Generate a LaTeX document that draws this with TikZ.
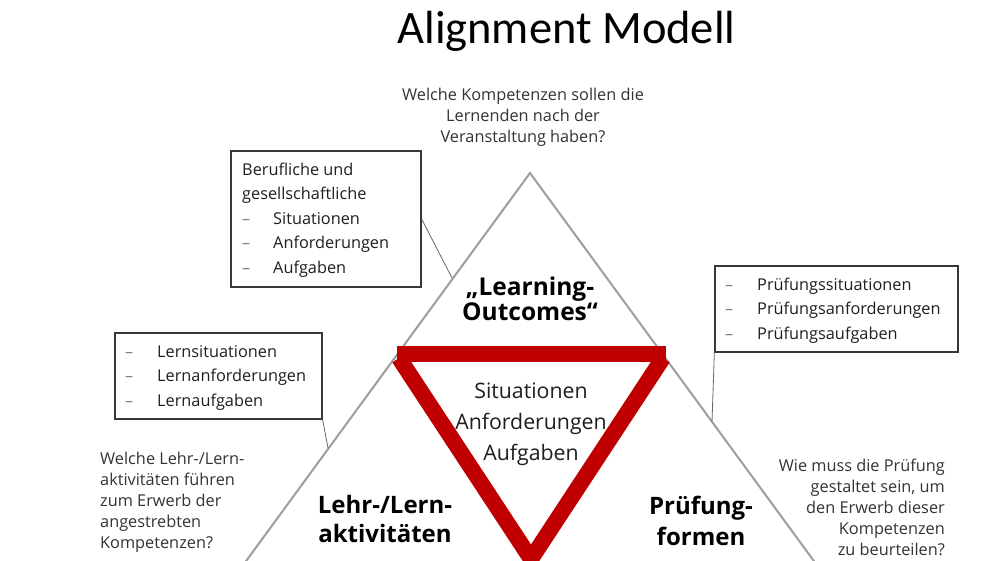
\documentclass[tikz,border=0pt]{standalone}
\usepackage{fontspec}
\setmainfont{Open Sans}
\newfontfamily\titlefont{Carlito}
\definecolor{redtri}{HTML}{C00000}
\definecolor{txtgray}{HTML}{333333}
\newcommand{\dashitem}[1]{\makebox[31pt][l]{\textcolor{black!50}{–}}#1}
\begin{document}
\begin{tikzpicture}[x=1pt,y=-1pt,
  txt/.style={inner sep=0pt, text=black!90},
  quest/.style={inner sep=0pt, text=txtgray, font=\fontsize{16.3}{21}\selectfont},
  boxtxt/.style={inner sep=0pt, text=black!88, font=\fontsize{16.3}{24.4}\selectfont, align=left, anchor=base west},
  lbl/.style={inner sep=0pt, text=black, align=center, anchor=base},
  callbox/.style={draw=black!78, line width=1.3pt, inner sep=0pt, fill=white},
  callout/.style={draw=black!60, line width=0.8pt},
  outline/.style={draw=black!38, line width=2pt},
  redline/.style={draw=redtri, line width=16pt}
]
\useasboundingbox (0,0) rectangle (1006,560);
\fill[white] (0,0) rectangle (1006,560);
\clip (0,0) rectangle (1006,560);

% title
\node[txt, anchor=base, text=black, font=\titlefont\fontsize{46.5}{50}\selectfont] (title) at (566.5,43) {Alignment Modell};

% outer gray triangle
\coordinate (apex) at (530,173);
\coordinate (bl) at (230,583);
\coordinate (br) at (830,583);
\draw[outline, line join=miter] (bl) -- (apex) -- (br);

% red inverted triangle
\coordinate (rtl) at (397,354);
\coordinate (rtr) at (666,354);
\coordinate (rsl) at (399,358);
\coordinate (rsr) at (663,358);
\coordinate (rb) at (531,559);
\draw[redline, line cap=butt] (rtl) -- (rtr);
\draw[redline, line cap=butt, line join=miter] (rsl) -- (rb) -- (rsr);

% top question
\node[quest, align=center, anchor=base] (qtop) at (523,142) {Welche Kompetenzen sollen die\\Lernenden nach der\\Veranstaltung haben?};

% boxes
\node[callbox, minimum width=190pt, minimum height=136pt] (box1) at (326,219) {};
\node[boxtxt] (box1t) at (242,273) {Berufliche und\\gesellschaftliche\\\dashitem{Situationen}\\\dashitem{Anforderungen}\\\dashitem{Aufgaben}};

\node[callbox, minimum width=207pt, minimum height=86pt] (box2) at (218.5,376) {};
\node[boxtxt] (box2t) at (125,406) {\makebox[32pt][l]{\textcolor{black!50}{–}}Lernsituationen\\\makebox[32pt][l]{\textcolor{black!50}{–}}Lernanforderungen\\\makebox[32pt][l]{\textcolor{black!50}{–}}Lernaufgaben};

\node[callbox, minimum width=243pt, minimum height=86pt] (box3) at (836.5,309) {};
\node[boxtxt] (box3t) at (725,339) {\makebox[32pt][l]{\textcolor{black!50}{–}}Prüfungssituationen\\\makebox[32pt][l]{\textcolor{black!50}{–}}Prüfungsanforderungen\\\makebox[32pt][l]{\textcolor{black!50}{–}}Prüfungsaufgaben};

% callout connectors
\coordinate (c1) at (452,278);
\coordinate (c2) at (328,448);
\coordinate (c3) at (712,422);
\draw[callout] (box1.east) -- (c1);
\draw[callout] (box2.south east) -- (c2);
\draw[callout] (box3.south west) -- (c3);

% labels
\node[lbl, font=\fontsize{24.5}{25}\selectfont\bfseries] (lo) at (530,320) {„Learning-\\Outcomes“};
\node[lbl, font=\fontsize{24}{29}\selectfont\bfseries] (lehr) at (385,542) {Lehr-/Lern-\\aktivitäten};
\node[lbl, font=\fontsize{24}{31}\selectfont\bfseries] (pruef) at (701,545) {Prüfung-\\formen};
\node[lbl, text=black!88, font=\fontsize{21.3}{31}\selectfont] (mid) at (531,460) {Situationen\\Anforderungen\\Aufgaben};

% side questions
\node[quest, align=left, anchor=base west] (qleft) at (100,548) {Welche Lehr-/Lern-\\aktivitäten führen\\zum Erwerb der\\angestrebten\\Kompetenzen?};
\node[quest, align=right, anchor=base east] (qright) at (945,555) {Wie muss die Prüfung\\gestaltet sein, um\\den Erwerb dieser\\Kompetenzen\\zu beurteilen?};
\end{tikzpicture}
\end{document}
